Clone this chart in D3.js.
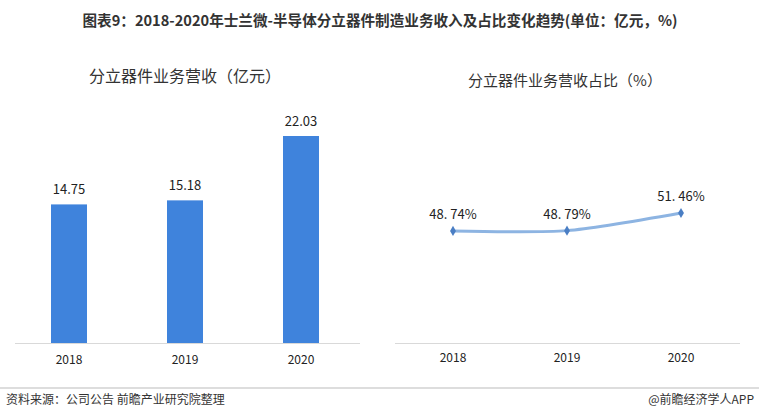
<!DOCTYPE html>
<html><head><meta charset="utf-8">
<script src="https://cdn.jsdelivr.net/npm/d3@7"></script>
<style>body{margin:0;background:#fff;font-family:"Noto Sans CJK SC","Noto Sans",sans-serif;}</style>
</head><body>
<script>
// data
var years = ["2018", "2019", "2020"];
var revenue = [14.75, 15.18, 22.03];
var share = [48.74, 48.79, 51.46];
var shareLabels = ["48. 74%", "48. 79%", "51. 46%"];

var svg = d3.select("body").append("svg").attr("width", 759).attr("height", 420);
var font = '"Noto Sans CJK SC", sans-serif';

// title
svg.append("text").attr("x", 380).attr("y", 26).attr("text-anchor", "middle")
    .style("font-size", "14.6px").style("font-weight", "bold").style("fill", "#333").style("font-family", font)
    .text("图表9：2018-2020年士兰微-半导体分立器件制造业务收入及占比变化趋势(单位：亿元，%)");

// left bar chart
var xL = d3.scalePoint().domain(years).range([69, 301]);
var yL = d3.scaleLinear().domain([0, 22.03]).range([343, 136]);
svg.append("text").attr("x", 185).attr("y", 82).attr("text-anchor", "middle")
    .style("font-size", "16px").style("fill", "#333").style("font-family", font).text("分立器件业务营收（亿元）");
svg.append("line").attr("x1", 15).attr("x2", 360).attr("y1", 343.5).attr("y2", 343.5).attr("stroke", "#d9d9d9");
svg.selectAll(".bar").data(revenue).enter().append("rect")
    .attr("x", (d, i) => xL(years[i]) - 18).attr("width", 36)
    .attr("y", d => yL(d)).attr("height", d => yL(0) - yL(d))
    .attr("fill", "#3f83dc");
svg.selectAll(".blab").data(revenue).enter().append("text")
    .attr("x", (d, i) => xL(years[i])).attr("y", d => yL(d) - 10).attr("text-anchor", "middle")
    .style("font-size", "13px").style("fill", "#222").style("font-family", font).text(d => d.toFixed(2));
svg.selectAll(".xl").data(years).enter().append("text")
    .attr("x", d => xL(d)).attr("y", 364).attr("text-anchor", "middle")
    .style("font-size", "12px").style("fill", "#222").style("font-family", font).text(d => d);

// right line chart
var xR = d3.scalePoint().domain(years).range([453, 681]);
var yR = d3.scaleLinear().domain([31.77, 51.46]).range([343, 213]);
svg.append("text").attr("x", 565).attr("y", 86).attr("text-anchor", "middle")
    .style("font-size", "15px").style("fill", "#333").style("font-family", font).text("分立器件业务营收占比（%）");
svg.append("line").attr("x1", 395).attr("x2", 740).attr("y1", 343.5).attr("y2", 343.5).attr("stroke", "#d9d9d9");
var line = d3.line().x((d, i) => xR(years[i])).y(d => yR(d)).curve(d3.curveCardinal.tension(0.3));
svg.append("path").datum(share).attr("d", line).attr("fill", "none")
    .attr("stroke", "#8db4e2").attr("stroke-width", 3);
svg.selectAll(".pt").data(share).enter().append("path")
    .attr("d", d3.symbol().type(d3.symbolDiamond).size(30))
    .attr("transform", (d, i) => "translate(" + xR(years[i]) + "," + yR(d) + ")")
    .attr("fill", "#4a7ec4");
svg.selectAll(".plab").data(share).enter().append("text")
    .attr("x", (d, i) => xR(years[i])).attr("y", d => yR(d) - 12).attr("text-anchor", "middle")
    .style("font-size", "13px").style("fill", "#222").style("font-family", font).text((d, i) => shareLabels[i]);
svg.selectAll(".xr").data(years).enter().append("text")
    .attr("x", d => xR(d)).attr("y", 362).attr("text-anchor", "middle")
    .style("font-size", "12px").style("fill", "#222").style("font-family", font).text(d => d);

// footer
svg.append("line").attr("x1", 0).attr("x2", 759).attr("y1", 388).attr("y2", 388).attr("stroke", "#bbb");
svg.append("text").attr("x", 6).attr("y", 404).style("font-size", "12px").style("fill", "#333").style("font-family", font)
    .text("资料来源：公司公告 前瞻产业研究院整理");
svg.append("text").attr("x", 754).attr("y", 404).attr("text-anchor", "end").style("font-size", "12px").style("fill", "#333").style("font-family", font)
    .text("@前瞻经济学人APP");
</script>
</body></html>
